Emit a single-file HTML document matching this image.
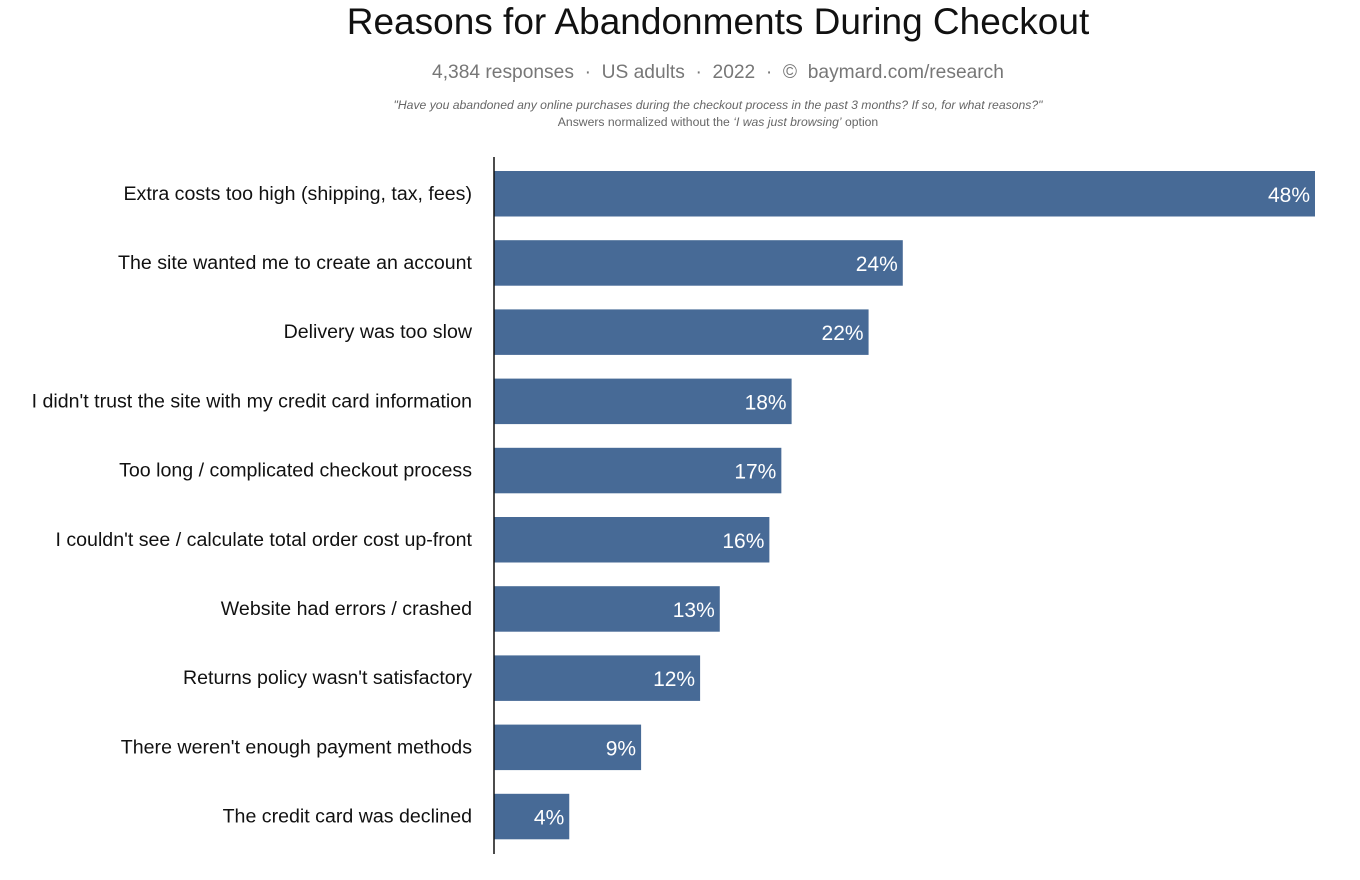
<!DOCTYPE html>
<html><head><meta charset="utf-8">
<style>
body{margin:0;background:#fff;width:1360px;height:880px;overflow:hidden;font-family:"Liberation Sans",sans-serif}
.t{position:absolute;left:0;width:1436px;text-align:center}
</style></head><body>
<div class="t" style="top:1px;font-size:37px;color:#111">Reasons for Abandonments During Checkout</div>
<div class="t" style="top:62px;font-size:19.2px;color:#777">4,384 responses &nbsp;·&nbsp; US adults &nbsp;·&nbsp; 2022 &nbsp;·&nbsp; ©&nbsp; baymard.com/research</div>
<div class="t" style="top:98px;font-size:12.2px;color:#666;font-style:italic">"Have you abandoned any online purchases during the checkout process in the past 3 months? If so, for what reasons?"</div>
<div class="t" style="top:115px;font-size:12.2px;color:#666">Answers normalized without the <i>‘I was just browsing’</i> option</div>
<svg id="c" width="1360" height="880" style="position:absolute;left:0;top:0"></svg>
<script>
const categories=["Extra costs too high (shipping, tax, fees)","The site wanted me to create an account","Delivery was too slow","I didn't trust the site with my credit card information","Too long / complicated checkout process","I couldn't see / calculate total order cost up-front","Website had errors / crashed","Returns policy wasn't satisfactory","There weren't enough payment methods","The credit card was declined"];
const values=[48,23.9,21.9,17.4,16.8,16.1,13.2,12.05,8.6,4.4];
const labels=["48%","24%","22%","18%","17%","16%","13%","12%","9%","4%"];
const svg=document.getElementById('c');const NS="http://www.w3.org/2000/svg";
const x0=494,scale=(1315-494)/48;
const x=v=>x0+v*scale;
const y=i=>171+i*69.2;
const bh=45.5;
function mk(t,a){const e=document.createElementNS(NS,t);for(const k in a)e.setAttribute(k,a[k]);svg.appendChild(e);return e;}
categories.forEach((c,i)=>{
  const r=mk('rect',{x:x0,y:y(i),width:x(values[i])-x0,height:bh,fill:'#476a96'});
  
  
  const cl=mk('text',{x:472,y:y(i)+bh/2+6,'text-anchor':'end','font-size':19.6,fill:'#111','font-family':'Liberation Sans, sans-serif'});
  cl.textContent=c;
  
  
  const vl=mk('text',{x:x(values[i])-5,y:y(i)+bh/2+8,'text-anchor':'end','font-size':21,fill:'#fff','font-family':'Liberation Sans, sans-serif'});
  vl.textContent=labels[i];
  
  
});
const ax=mk('line',{x1:x0,x2:x0,y1:157,y2:854,stroke:'#111','stroke-width':1.5});


</script>
</body></html>
